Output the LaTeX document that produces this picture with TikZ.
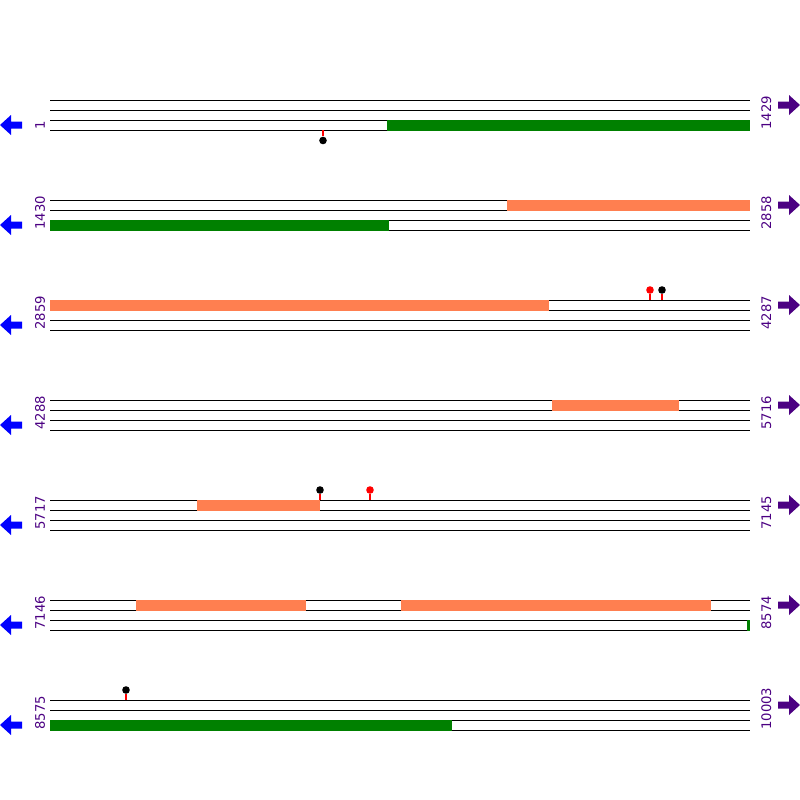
\documentclass[tikz,border=0pt]{standalone}
\usepackage{fontspec}
\setmainfont{DejaVu Sans}
\usepackage{tikz}

\definecolor{genegreen}{HTML}{008000}
\definecolor{geneorange}{HTML}{FF7F50}
\definecolor{strandpurple}{HTML}{4B0082}

\tikzset{
  lane/.style={line width=0.5pt, black},
  fwdbar/.style={fill=geneorange, draw=none},
  revbar/.style={fill=genegreen, draw=none},
  poslabel/.style={text=strandpurple, rotate=90, anchor=base west, inner sep=0pt,
    font=\fontsize{6.6}{8}\selectfont},
  stick/.style={red, line width=0.6pt},
  blob/.style={circle, inner sep=0pt, minimum size=3.8pt}
}

\begin{document}
\begin{tikzpicture}[x=0.5pt, y=-0.5pt]
\useasboundingbox (0,0) rectangle (800,800);
% lanes, arrows and labels
\foreach \r/\lo/\hi in {0/1/1429, 1/1430/2858, 2/2859/4287, 3/4288/5716,
                        4/5717/7145, 5/7146/8574, 6/8575/10003} {
  \pgfmathsetmacro{\y}{100+100*\r}
  \foreach \k in {0,1,2,3}
    \draw [lane] (50,\y+10*\k) -- (750,\y+10*\k);
  \fill [blue] (0,\y+25) -- (11,\y+15) -- (11,\y+21.5) -- (22,\y+21.5)
    -- (22,\y+28.5) -- (11,\y+28.5) -- (11,\y+35) -- cycle;
  \fill [strandpurple] (800,\y+5) -- (789,\y-5) -- (789,\y+1.5) -- (778,\y+1.5)
    -- (778,\y+8.5) -- (789,\y+8.5) -- (789,\y+15) -- cycle;
  \node [poslabel] (lo\r) at (45,\y+30) {\lo};
  \node [poslabel] (hi\r) at (771,\y+30) {\hi};
}
% genes
\fill [revbar] (387,119.5) rectangle (750,130.5);
\fill [fwdbar] (507,199.5) rectangle (750,210.5);
\fill [revbar] (50,219.5) rectangle (389,230.5);
\fill [fwdbar] (50,299.5) rectangle (549,310.5);
\fill [fwdbar] (552,399.5) rectangle (679,410.5);
\fill [fwdbar] (197,499.5) rectangle (320,510.5);
\fill [fwdbar] (136,599.5) rectangle (306,610.5);
\fill [fwdbar] (401,599.5) rectangle (711,610.5);
\fill [revbar] (747,619.5) rectangle (750,630.5);
\fill [revbar] (50,719.5) rectangle (452,730.5);
% sites
\node [blob, fill=black] (s1) at (323,140.5) {};
\draw [stick] (323,130) -- (s1);
\node [blob, fill=red] (s2) at (650,290) {};
\draw [stick] (650,300) -- (s2);
\node [blob, fill=black] (s3) at (662,290) {};
\draw [stick] (662,300) -- (s3);
\node [blob, fill=black] (s4) at (320,490) {};
\draw [stick] (320,500) -- (s4);
\node [blob, fill=red] (s5) at (370,490) {};
\draw [stick] (370,500) -- (s5);
\node [blob, fill=black] (s6) at (126,690) {};
\draw [stick] (126,700) -- (s6);
\end{tikzpicture}
\end{document}
